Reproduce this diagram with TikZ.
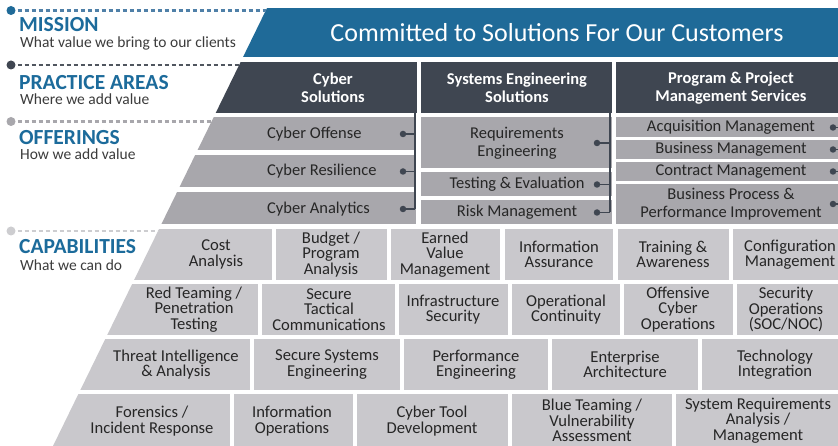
\documentclass[tikz,border=0pt]{standalone}
\usepackage{fontspec}
\setmainfont{Carlito}
\definecolor{misblue}{HTML}{1F6A98}
\definecolor{lblblue}{HTML}{1C6B9B}
\definecolor{misdash}{HTML}{4F80A8}
\definecolor{slate}{HTML}{3F4651}
\definecolor{slatedash}{HTML}{50565F}
\definecolor{offgray}{HTML}{A8A7AC}
\definecolor{capgray}{HTML}{C9C8CC}
\definecolor{capdash}{HTML}{CDCDD0}
\definecolor{txt}{HTML}{262626}
\definecolor{subtxt}{HTML}{3C3C3C}
\newcommand\cfnt{\fontsize{16.6}{15.4}\selectfont}
\newcommand\ofnt{\fontsize{16.5}{17.5}\selectfont}
\newcommand\pfnt{\fontsize{16.5}{18}\selectfont\bfseries}
\tikzset{
  capcell/.style={font=\cfnt, text=txt, align=center, inner sep=0pt},
  offcell/.style={font=\ofnt, text=txt, align=center, inner sep=0pt},
  praccell/.style={font=\pfnt, text=white, align=center, inner sep=0pt},
  lvl/.style={font=\fontsize{21.5}{24}\selectfont\bfseries, text=lblblue, anchor=base west, inner sep=0pt},
  sublbl/.style={font=\fontsize{15.5}{18}\selectfont, text=subtxt, anchor=base west, inner sep=0pt},
  brk/.style={draw=slate, line width=1.8pt},
  bdot/.style={circle, fill=slate, inner sep=0pt, minimum size=6.5pt},
  ldot/.style={circle, inner sep=0pt, minimum size=9pt},
  ldash/.style={line width=2.2pt, dash pattern=on 4pt off 3pt}
}
\begin{document}
\begin{tikzpicture}[x=1pt,y=-1pt]
\useasboundingbox (0,0) rectangle (838,446);
\fill[white] (0,0) rectangle (838,446);

% ---------- pyramid bands ----------
\begin{scope}
\clip (267,8) -- (870,8) -- (870,446) -- (53,446) -- cycle;
% mission
\fill[misblue] (0,8) rectangle (870,57);
% practice areas
\fill[slate] (0,62) rectangle (417,113);
\fill[slate] (421,62) rectangle (612,113);
\fill[slate] (616,62) rectangle (870,113);
% offerings col 1
\fill[offgray] (0,117) rectangle (416,150);
\fill[offgray] (0,155) rectangle (416,187);
\fill[offgray] (0,192) rectangle (416,224);
% offerings col 2
\fill[offgray] (421,117) rectangle (612,168);
\fill[offgray] (421,172) rectangle (612,196);
\fill[offgray] (421,200) rectangle (612,224);
% offerings col 3
\fill[offgray] (616,117) rectangle (870,137);
\fill[offgray] (616,140) rectangle (870,159);
\fill[offgray] (616,162) rectangle (870,181);
\fill[offgray] (616,184) rectangle (870,224);
% capabilities row 1
\fill[capgray] (0,229) rectangle (272,280);
\fill[capgray] (276,229) rectangle (387,280);
\fill[capgray] (391,229) rectangle (500,280);
\fill[capgray] (505,229) rectangle (613,280);
\fill[capgray] (618,229) rectangle (729,280);
\fill[capgray] (733,229) rectangle (870,280);
% row 2
\fill[capgray] (0,284) rectangle (258,335);
\fill[capgray] (262,284) rectangle (395,335);
\fill[capgray] (399,284) rectangle (508,335);
\fill[capgray] (512,284) rectangle (620,335);
\fill[capgray] (624,284) rectangle (733,335);
\fill[capgray] (737,284) rectangle (870,335);
% row 3
\fill[capgray] (0,339) rectangle (250,390);
\fill[capgray] (254,339) rectangle (400,390);
\fill[capgray] (404,339) rectangle (548,390);
\fill[capgray] (552,339) rectangle (698,390);
\fill[capgray] (702,339) rectangle (870,390);
% row 4
\fill[capgray] (0,394) rectangle (230,450);
\fill[capgray] (234,394) rectangle (353,450);
\fill[capgray] (357,394) rectangle (508,450);
\fill[capgray] (512,394) rectangle (672,450);
\fill[capgray] (676,394) rectangle (870,450);
\end{scope}

% ---------- left legend ----------
\node[ldot, fill=misblue] (dm) at (11,10.5) {};
\coordinate (em) at (266,10.5);
\draw[ldash, draw=misdash] (dm.east) ++(2,0) -- (em);
\node[lvl] (lm) at (19,31.5) {MISSION};
\node[sublbl] (sm) at (20,47.5) {What value we bring to our clients};

\node[ldot, fill=slate] (dp) at (11,65) {};
\coordinate (ep) at (239,65);
\draw[ldash, draw=slatedash] (dp.east) ++(2,0) -- (ep);
\node[lvl] (lp) at (19,89.5) {PRACTICE AREAS};
\node[sublbl] (sp) at (20,105) {Where we add value};

\node[ldot, fill=offgray] (do) at (11,121.5) {};
\coordinate (eo) at (211,121.5);
\draw[ldash, draw=offgray] (do.east) ++(2,0) -- (eo);
\node[lvl] (lo) at (19,144.5) {OFFERINGS};
\node[sublbl] (so) at (20,160) {How we add value};

\node[ldot, fill=capdash] (dc) at (11,231) {};
\coordinate (ec) at (158,231);
\draw[ldash, draw=capdash] (dc.east) ++(2,0) -- (ec);
\node[lvl] (lc) at (19,254) {CAPABILITIES};
\node[sublbl] (sc) at (20,270.5) {What we can do};

% ---------- mission text ----------
\node[font=\fontsize{26}{30}\selectfont, text=white, inner sep=0pt] (mt) at (557,33) {Committed to Solutions For Our Customers};

% ---------- practice areas ----------
\node[praccell] (p1) at (333,88) {Cyber\\Solutions};
\node[praccell] (p2) at (517,88) {Systems Engineering\\Solutions};
\node[praccell] (p3) at (731,88) {Program \& Project\\Management Services};

% ---------- offerings ----------
\node[offcell, anchor=west] (o11) at (267,134) {Cyber Offense};
\node[offcell, anchor=west] (o12) at (267,171.5) {Cyber Resilience};
\node[offcell, anchor=west] (o13) at (267,209) {Cyber Analytics};
\node[offcell] (o21) at (517,143) {Requirements\\Engineering};
\node[offcell] (o22) at (517,184.5) {Testing \& Evaluation};
\node[offcell] (o23) at (517,212.5) {Risk Management};
\node[offcell] (o31) at (731,127.5) {Acquisition Management};
\node[offcell] (o32) at (731,149.5) {Business Management};
\node[offcell] (o33) at (731,171.5) {Contract Management};
\node[offcell] (o34) at (731,204) {Business Process \&\\Performance Improvement};

% brackets col 1
\coordinate (b1t) at (415,112);
\coordinate (b1b) at (415,209);
\draw[brk] (b1t) -- (b1b);
\node[bdot] (k11) at (403,134) {};
\node[bdot] (k12) at (403,171.5) {};
\node[bdot] (k13) at (403,209) {};
\draw[brk] (k11.center) -- (k11.center -| b1t);
\draw[brk] (k12.center) -- (k12.center -| b1t);
\draw[brk] (k13.center) -- (k13.center -| b1t);
% brackets col 2
\coordinate (b2t) at (610,112);
\coordinate (b2b) at (610,212.5);
\draw[brk] (b2t) -- (b2b);
\node[bdot] (k21) at (597,143) {};
\node[bdot] (k22) at (597,184.5) {};
\node[bdot] (k23) at (597,212.5) {};
\draw[brk] (k21.center) -- (k21.center -| b2t);
\draw[brk] (k22.center) -- (k22.center -| b2t);
\draw[brk] (k23.center) -- (k23.center -| b2t);
% brackets col 3 (stubs running off the right edge)
\coordinate (b3) at (845,120);
\node[bdot] (k31) at (833,127.5) {};
\node[bdot] (k32) at (833,149.5) {};
\node[bdot] (k33) at (833,171.5) {};
\node[bdot] (k34) at (833,204) {};
\draw[brk] (k31.center) -- (k31.center -| b3);
\draw[brk] (k32.center) -- (k32.center -| b3);
\draw[brk] (k33.center) -- (k33.center -| b3);
\draw[brk] (k34.center) -- (k34.center -| b3);

% ---------- capabilities ----------
\node[capcell] (c11) at (216,254.5) {Cost\\Analysis};
\node[capcell] (c12) at (331,254.5) {Budget /\\Program\\Analysis};
\node[capcell] (c13) at (445,254.5) {Earned\\Value\\Management};
\node[capcell] (c14) at (559,254.5) {Information\\Assurance};
\node[capcell] (c15) at (673,254.5) {Training \&\\Awareness};
\node[capcell] (c16) at (790,254.5) {Configuration\\Management};

\node[capcell] (c21) at (194,309.5) {Red Teaming /\\Penetration\\Testing};
\node[capcell] (c22) at (329,309.5) {Secure\\Tactical\\Communications};
\node[capcell] (c23) at (453,309.5) {Infrastructure\\Security};
\node[capcell] (c24) at (566,309.5) {Operational\\Continuity};
\node[capcell] (c25) at (678,309.5) {Offensive\\Cyber\\Operations};
\node[capcell] (c26) at (786,309.5) {Security\\Operations\\(SOC/NOC)};

\node[capcell] (c31) at (176,364.5) {Threat Intelligence\\\& Analysis};
\node[capcell] (c32) at (327,364.5) {Secure Systems\\Engineering};
\node[capcell] (c33) at (476,364.5) {Performance\\Engineering};
\node[capcell] (c34) at (625,364.5) {Enterprise\\Architecture};
\node[capcell] (c35) at (775,364.5) {Technology\\Integration};

\node[capcell] (c41) at (152,421) {Forensics /\\Incident Response};
\node[capcell] (c42) at (292,421) {Information\\Operations};
\node[capcell] (c43) at (432,421) {Cyber Tool\\Development};
\node[capcell] (c44) at (592,420.5) {Blue Teaming /\\Vulnerability\\Assessment};
\node[capcell] (c45) at (758,420.5) {System Requirements\\Analysis /\\Management};
\end{tikzpicture}
\end{document}
